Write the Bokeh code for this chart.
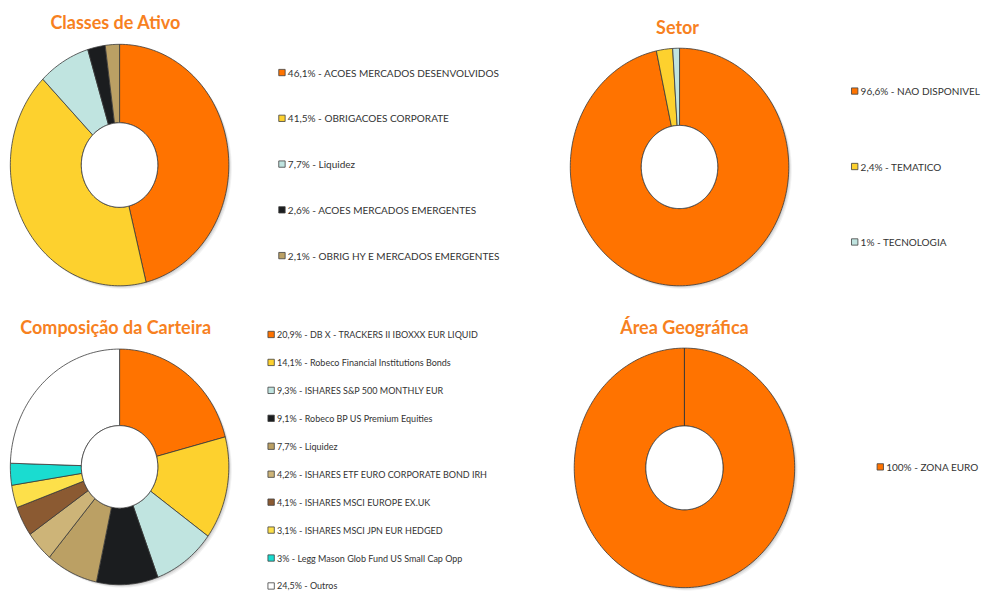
import numpy as np
from bokeh.plotting import figure
from bokeh.models import Range1d, ColumnDataSource
from bokeh.core.properties import value
from bokeh.embed import file_html
from bokeh.resources import INLINE

# ---------------- data ----------------
classes_labels = ["ACOES MERCADOS DESENVOLVIDOS", "OBRIGACOES CORPORATE", "Liquidez",
                  "ACOES MERCADOS EMERGENTES", "OBRIG HY E MERCADOS EMERGENTES"]
classes_pct = ["46,1%", "41,5%", "7,7%", "2,6%", "2,1%"]
classes_values = [46.1, 41.5, 7.7, 2.6, 2.1]
classes_colors = ["#FF7300", "#FDD12E", "#C0E4E0", "#1B1D1F", "#BBA064"]

setor_labels = ["NAO DISPONIVEL", "TEMATICO", "TECNOLOGIA"]
setor_pct = ["96,6%", "2,4%", "1%"]
setor_values = [96.6, 2.4, 1.0]
setor_colors = ["#FF7300", "#FDD12E", "#C0E4E0"]

comp_labels = ["DB X - TRACKERS II IBOXXX EUR LIQUID", "Robeco Financial Institutions Bonds",
               "ISHARES S&P 500 MONTHLY EUR", "Robeco BP US Premium Equities", "Liquidez",
               "ISHARES ETF EURO CORPORATE BOND IRH", "ISHARES MSCI EUROPE EX.UK",
               "ISHARES MSCI JPN EUR HEDGED", "Legg Mason Glob Fund US Small Cap Opp", "Outros"]
comp_pct = ["20,9%", "14,1%", "9,3%", "9,1%", "7,7%", "4,2%", "4,1%", "3,1%", "3%", "24,5%"]
comp_values = [20.9, 14.1, 9.3, 9.1, 7.7, 4.2, 4.1, 3.1, 3.0, 24.5]
comp_colors = ["#FF7300", "#FDD12E", "#C0E4E0", "#1B1D1F", "#BBA064", "#CDB478",
               "#8B5A32", "#FDE04A", "#1ADCD0", "#FFFFFF"]

geo_labels = ["ZONA EURO"]
geo_pct = ["100%"]
geo_values = [100.0]
geo_colors = ["#FF7300"]

titles = ["Classes de Ativo", "Setor", "Composição da Carteira", "Área Geográfica"]

# ---------------- figure ----------------
W, H = 990, 592
p = figure(width=W, height=H, output_backend="svg", toolbar_location=None,
           x_range=Range1d(0, 1006), y_range=Range1d(608, 0),
           min_border=0, tools="")
p.axis.visible = False
p.grid.visible = False
p.outline_line_color = None
p.background_fill_color = "white"
p.border_fill_color = "white"

FONT = value("Lato")
TITLE_COLOR = "#F7811F"
TEXT_COLOR = "#333333"
EDGE = "#3a3a3a"


def donut(values, colors, cx, cy, rx, ry, inner=0.35):
    vals = np.asarray(values, dtype=float)
    frac = vals / vals.sum()
    ends = np.cumsum(frac) * 2 * np.pi
    starts = ends - frac * 2 * np.pi
    # soft shadow
    t = np.linspace(0, 2 * np.pi, 200)
    for k, a in [(3, 0.10), (2, 0.15), (1, 0.2)]:
        p.patch(cx + k + rx * np.sin(t), cy + k + ry * np.cos(t),
                fill_color="#808080", fill_alpha=a, line_color=None)
    xs, ys = [], []
    for s, e in zip(starts, ends):
        n = max(int((e - s) / (2 * np.pi) * 240), 4)
        a = np.linspace(s, e, n)
        xo = cx + rx * np.sin(a)
        yo = cy - ry * np.cos(a)
        xi = cx + rx * inner * np.sin(a[::-1])
        yi = cy - ry * inner * np.cos(a[::-1])
        xs.append(np.concatenate([xo, xi]))
        ys.append(np.concatenate([yo, yi]))
    src = ColumnDataSource(dict(xs=xs, ys=ys, color=list(colors)))
    p.patches("xs", "ys", source=src, fill_color="color", line_color=EDGE, line_width=0.8)
    p.patch(cx + rx * inner * np.sin(t), cy - ry * inner * np.cos(t),
            fill_color="white", line_color=EDGE, line_width=0.8)


def legend(pcts, labels, colors, x, y0, dy, size):
    ys = [y0 + i * dy for i in range(len(labels))]
    texts = [f"{pc} - {lb}" for pc, lb in zip(pcts, labels)]
    sq = ColumnDataSource(dict(x=[x] * len(labels), y=ys, color=list(colors)))
    p.rect("x", "y", width=6.5, height=6.5, source=sq, fill_color="color",
           line_color="#404040", line_width=0.8)
    ts = ColumnDataSource(dict(x=[x + 6] * len(labels), y=ys, text=texts))
    p.text("x", "y", text="text", source=ts, text_font=FONT, text_font_size=size,
           text_color=TEXT_COLOR, text_align="left", text_baseline="middle")


def title(txt, x, y):
    p.text(x=[x], y=[y], text=[txt], text_font=FONT, text_font_size="18px",
           text_font_style="bold", text_color=TITLE_COLOR, text_align="center",
           text_baseline="middle")


donut(classes_values, classes_colors, 121, 169, 111, 124)
donut(setor_values, setor_colors, 690, 171, 111, 122)
donut(comp_values, comp_colors, 121, 479, 111, 121)
donut(geo_values, geo_colors, 695, 480, 112, 123)

title(titles[0], 117, 22)
title(titles[1], 688, 27)
title(titles[2], 117, 335)
title(titles[3], 695, 335)

legend(classes_pct, classes_labels, classes_colors, 286, 74, 47, "10px")
legend(setor_pct, setor_labels, setor_colors, 868, 93, 77.5, "10px")
legend(comp_pct, comp_labels, comp_colors, 275, 343, 28.7, "9px")
legend(geo_pct, geo_labels, geo_colors, 894, 479, 1, "10px")

open("out.html", "w").write(file_html(p, INLINE))
